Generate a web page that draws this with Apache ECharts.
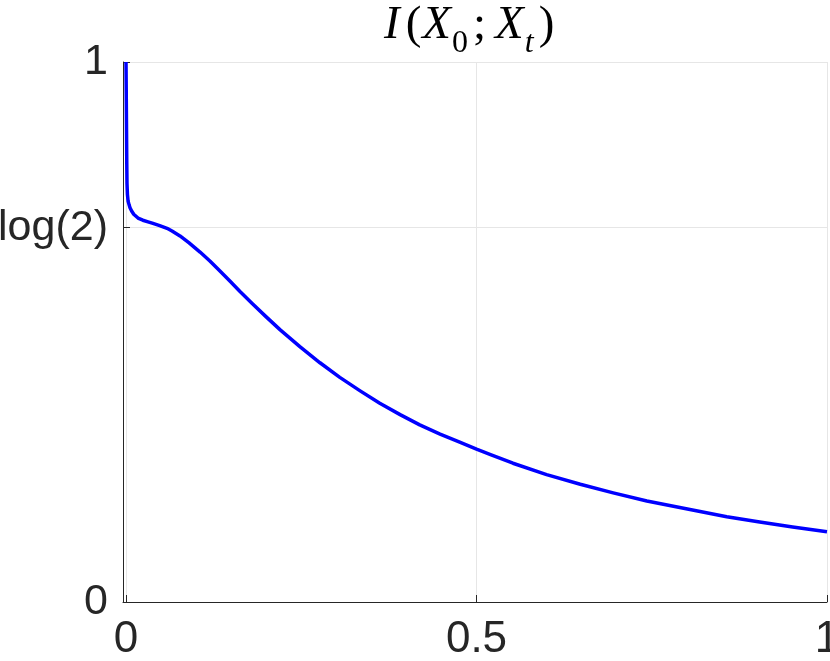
<!DOCTYPE html>
<html>
<head>
<meta charset="utf-8">
<script src="https://cdn.jsdelivr.net/npm/echarts@6/dist/echarts.min.js"></script>
<style>html,body{margin:0;padding:0;background:#fff}#c{width:830px;height:661px}</style>
</head>
<body>
<div id="c"></div>
<script>
const xValues = [0, 0.0004, 0.0008, 0.0011, 0.0014, 0.002, 0.003, 0.0045, 0.0057, 0.008, 0.011, 0.0171, 0.024, 0.0314, 0.0385, 0.048, 0.0585, 0.0656, 0.077, 0.09, 0.1056, 0.12, 0.134, 0.1485, 0.1626, 0.18, 0.2, 0.22, 0.248, 0.2767, 0.305, 0.334, 0.362, 0.391, 0.419, 0.448, 0.476, 0.5, 0.52, 0.552, 0.600, 0.648, 0.695, 0.743, 0.790, 0.857, 0.904, 0.951, 1.0];
const yValues = [1.0, 0.93, 0.86, 0.81, 0.775, 0.755, 0.742, 0.735, 0.730, 0.724, 0.718, 0.711, 0.707, 0.704, 0.701, 0.697, 0.692, 0.687, 0.678, 0.665, 0.648, 0.631, 0.613, 0.594, 0.575, 0.553, 0.528, 0.504, 0.473, 0.443, 0.416, 0.391, 0.368, 0.347, 0.328, 0.311, 0.296, 0.283, 0.273, 0.257, 0.236, 0.218, 0.202, 0.187, 0.175, 0.158, 0.148, 0.139, 0.130];
const xTicks = [0, 0.5, 1];
const xTickLabels = ['0', '0.5', '1'];
const yTicks = [0, Math.log(2), 1];
const yTickLabels = ['0', 'log(2)', '1'];

const chart = echarts.init(document.getElementById('c'), null, {renderer: 'canvas'});
const axisColor = '#262626';
const gridColor = '#e6e6e6';
const labelFont = 'Liberation Sans, Helvetica, Arial, sans-serif';
const serif = 'Liberation Serif, Times New Roman, serif';
const big = {fontFamily: serif, fontWeight: 'normal', fontSize: 47, lineHeight: 58, color: '#000', verticalAlign: 'top'};
const small = {fontFamily: serif, fontWeight: 'normal', fontSize: 32, lineHeight: 32, color: '#000', verticalAlign: 'top'};

chart.setOption({
  animation: false,
  backgroundColor: '#ffffff',
  title: {
    left: 379,
    top: -3,
    text: '{i|I}{p|(}{x|X}{s|0}{sc|;}{x2|X}{st|t}{q|)}',
    textStyle: {
      fontWeight: 'normal',
      rich: {
        i: Object.assign({}, big, {fontStyle: 'italic', padding: [0, 6, 0, 0]}),
        p: Object.assign({}, big, {padding: [0, 1, 0, 0]}),
        x: Object.assign({}, big, {fontStyle: 'italic', padding: [0, 1, 0, 0]}),
        x2: Object.assign({}, big, {fontStyle: 'italic', padding: [0, 1, 0, 0]}),
        s: Object.assign({}, small, {padding: [26, 5, 0, 0]}),
        sc: Object.assign({}, big, {padding: [0, 9, 0, 0]}),
        st: Object.assign({}, small, {fontStyle: 'italic', padding: [26, 5, 0, 0]}),
        q: Object.assign({}, big, {padding: [0, 0, 0, 0]})
      }
    }
  },
  grid: {left: 123, right: 3, top: 62, bottom: 59, containLabel: false, outerBoundsMode: 'none'},
  xAxis: {
    type: 'value',
    min: -0.0043,
    max: 1,
    axisLine: {show: true, onZero: false, lineStyle: {color: axisColor, width: 1}},
    axisTick: {show: true, inside: true, length: 7, customValues: xTicks, lineStyle: {color: axisColor}},
    axisLabel: {
      customValues: xTicks,
      margin: 16,
      fontSize: 44,
      fontFamily: labelFont,
      color: axisColor,
      formatter: function (v) { const i = xTicks.findIndex(t => Math.abs(t - v) < 1e-6); return i >= 0 ? xTickLabels[i] : ''; }
    },
    splitLine: {show: true, lineStyle: {color: gridColor, width: 1}}
  },
  yAxis: {
    type: 'value',
    min: 0,
    max: 1,
    axisLine: {show: true, onZero: false, lineStyle: {color: axisColor, width: 1}},
    axisTick: {show: true, inside: true, length: 7, customValues: yTicks, lineStyle: {color: axisColor}},
    axisLabel: {
      customValues: yTicks,
      margin: 15,
      fontSize: 43,
      fontFamily: labelFont,
      color: axisColor,
      formatter: function (v) { const i = yTicks.findIndex(t => Math.abs(t - v) < 1e-6); return i >= 0 ? yTickLabels[i] : ''; }
    },
    splitLine: {show: true, lineStyle: {color: gridColor, width: 1}}
  },
  series: [{
    type: 'line',
    data: xValues.map((x, i) => [x, yValues[i]]),
    showSymbol: false,
    smooth: false,
    clip: true,
    lineStyle: {color: '#0000ff', width: 3.5, join: 'round'},
    itemStyle: {color: '#0000ff'}
  }]
});
</script>
</body>
</html>
